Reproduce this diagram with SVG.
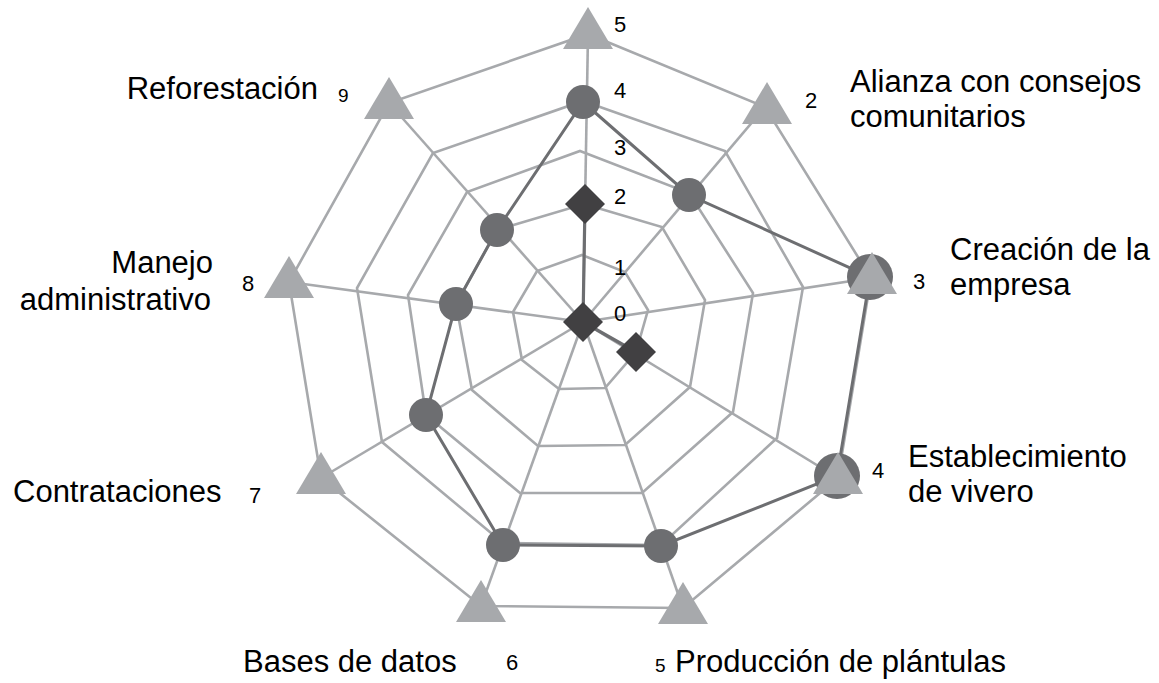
<svg xmlns="http://www.w3.org/2000/svg" width="1159" height="683" viewBox="0 0 1159 683">
<defs>
<style>
.grid{fill:none;stroke:#a7a9ac;stroke-width:2.6;stroke-linejoin:miter}
.sline{fill:none;stroke:#6d6e71;stroke-width:3}
.dline{fill:none;stroke:#6d6e71;stroke-width:3.2}
.circ{fill:#6d6e71}
.tri{fill:#a7a9ac}
.dia{fill:#414042}
.lbl{font-family:"Liberation Sans",Arial,sans-serif;font-size:31px;fill:#000}
.num{font-family:"Liberation Sans",Arial,sans-serif;font-size:22px;fill:#000}
</style>
<path id="triangle" d="M0,-27 L25,15 L-25,15 Z"/>
<path id="diamond" d="M0,-20 L20,0 L0,20 L-20,0 Z"/>
</defs>
<rect width="1159" height="683" fill="#fff"/>
<g id="connectors">
<g id="grid-rings" class="grid">
<polygon points="582,255 625,272 648,310 636,352 605,388 559,389 522,360 513,312 537,271"/>
<polygon points="584,204 662,227 705,300 690,387 625,445 538,446 472,390 456,304 497,230"/>
<polygon points="580,151 689,193 753,293 733,412 642,493 520,493 426,415 408,295 467,192"/>
<polygon points="583,101 725,151 803,287 777,438 661,545 503,543 382,442 357,288 433,153"/>
<polygon points="588,34 765,107 871,278 838,478 683,608 481,606 321,478 289,282 389,103"/>
</g>
<g id="grid-axes" class="grid">
<line x1="583" y1="322" x2="588" y2="34"/>
<line x1="583" y1="322" x2="765" y2="107"/>
<line x1="583" y1="322" x2="871" y2="278"/>
<line x1="583" y1="322" x2="838" y2="478"/>
<line x1="583" y1="322" x2="683" y2="608"/>
<line x1="583" y1="322" x2="481" y2="606"/>
<line x1="583" y1="322" x2="321" y2="478"/>
<line x1="583" y1="322" x2="289" y2="282"/>
<line x1="583" y1="322" x2="389" y2="103"/>
</g>
<polyline id="series-diamond-line" class="dline" points="585,204 583,322 636,352"/>
<polygon id="series-circle-line" class="sline" points="583,102 689,195 870,277 837,476 661,546 503,545 426,415 456,304 497,230"/>
</g>
<g id="series-circle">
<circle id="c-top" class="circ" cx="583" cy="102" r="17"/>
<circle id="c-alianza" class="circ" cx="689" cy="195" r="17"/>
<circle id="c-creacion" class="circ" cx="870" cy="277" r="23"/>
<circle id="c-vivero" class="circ" cx="837" cy="476" r="23"/>
<circle id="c-produccion" class="circ" cx="661" cy="546" r="17"/>
<circle id="c-bases" class="circ" cx="503" cy="545" r="17"/>
<circle id="c-contrataciones" class="circ" cx="426" cy="415" r="17"/>
<circle id="c-manejo" class="circ" cx="456" cy="304" r="17"/>
<circle id="c-reforestacion" class="circ" cx="497" cy="230" r="17"/>
</g>
<g id="series-triangle" class="tri">
<use id="t-top" href="#triangle" x="588" y="34"/>
<use id="t-alianza" href="#triangle" x="767" y="109"/>
<use id="t-creacion" href="#triangle" x="872" y="279"/>
<use id="t-vivero" href="#triangle" x="838" y="479"/>
<use id="t-produccion" href="#triangle" x="683" y="609"/>
<use id="t-bases" href="#triangle" x="481" y="607"/>
<use id="t-contrataciones" href="#triangle" x="321" y="479"/>
<use id="t-manejo" href="#triangle" x="289" y="283"/>
<use id="t-reforestacion" href="#triangle" x="389" y="104"/>
</g>
<g id="series-diamond" class="dia">
<use id="d-top" href="#diamond" x="585" y="204"/>
<use id="d-center" href="#diamond" x="583" y="322"/>
<use id="d-vivero" href="#diamond" x="636" y="352"/>
</g>
<g id="scale-labels" class="num">
<text x="614" y="32">5</text>
<text x="614" y="98">4</text>
<text x="614" y="155">3</text>
<text x="614" y="204">2</text>
<text x="614" y="275">1</text>
<text x="614" y="321">0</text>
</g>
<g id="axis-labels">
<g id="axis-alianza"><text class="num" x="805" y="108">2</text><text class="lbl" x="850" y="92">Alianza con consejos</text><text class="lbl" x="850" y="127">comunitarios</text></g>
<g id="axis-creacion"><text class="num" x="913" y="289">3</text><text class="lbl" x="950" y="260">Creación de la</text><text class="lbl" x="950" y="295">empresa</text></g>
<g id="axis-vivero"><text class="num" x="872" y="478">4</text><text class="lbl" x="908" y="467">Establecimiento</text><text class="lbl" x="908" y="502">de vivero</text></g>
<g id="axis-produccion"><text class="num" x="655" y="672" style="font-size:19px">5</text><text class="lbl" x="675" y="672">Producción de plántulas</text></g>
<g id="axis-bases"><text class="lbl" x="243" y="672">Bases de datos</text><text class="num" x="506" y="670">6</text></g>
<g id="axis-contrataciones"><text class="lbl" x="13" y="502">Contrataciones</text><text class="num" x="249" y="503">7</text></g>
<g id="axis-manejo"><text class="lbl" x="213" y="273" text-anchor="end">Manejo</text><text class="lbl" x="211" y="310" text-anchor="end">administrativo</text><text class="num" x="242" y="291">8</text></g>
<g id="axis-reforestacion"><text class="lbl" x="318" y="99" text-anchor="end">Reforestación</text><text class="num" x="338" y="102" style="font-size:19px">9</text></g>
</g>
</svg>
